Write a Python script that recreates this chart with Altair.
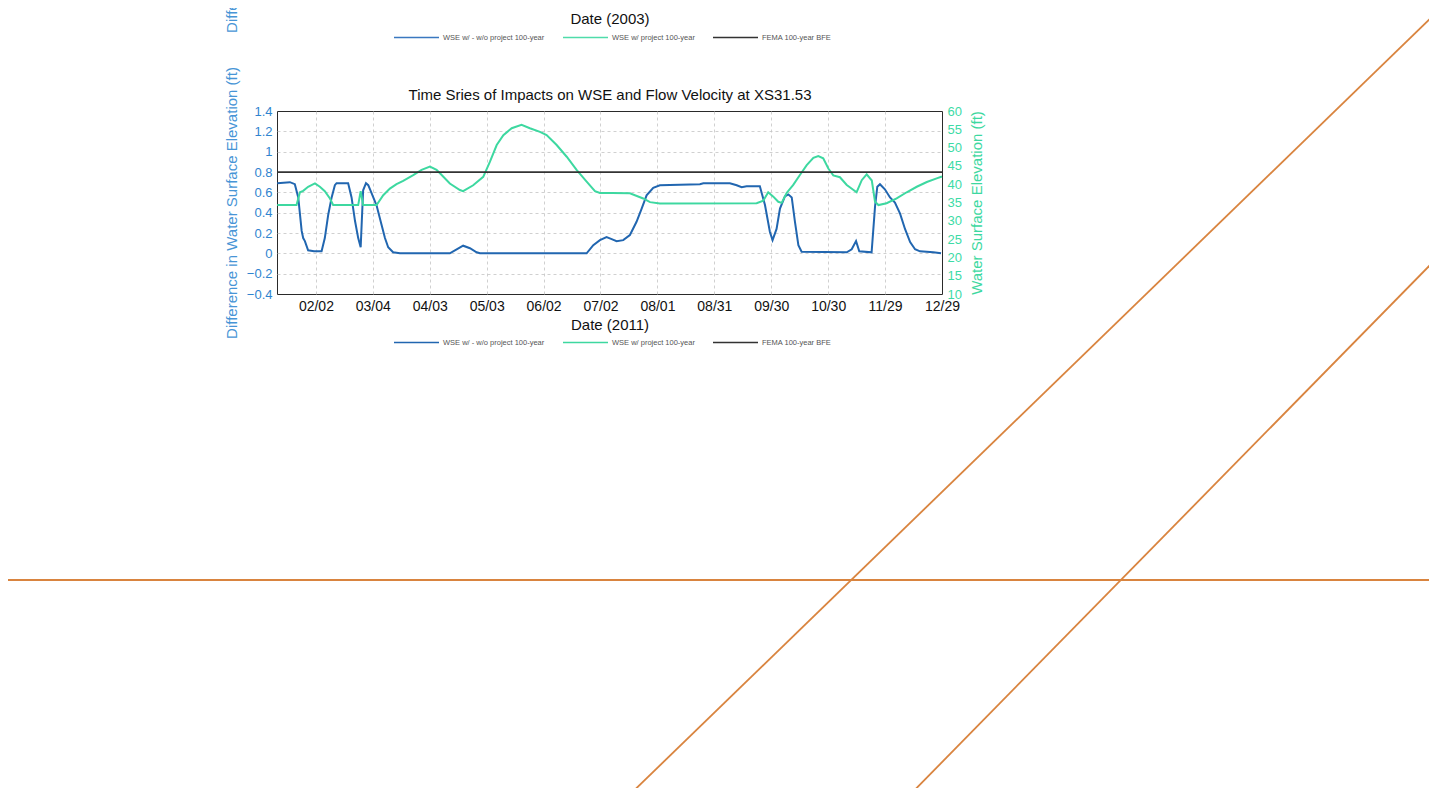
import json
import altair as alt
import pandas as pd

# ---------------- data ----------------
# x ticks: day of year (2011 / 2003) and their labels
tick_days = [33, 63, 93, 123, 153, 183, 213, 243, 273, 303, 333, 363]
tick_labels = ["02/02", "03/04", "04/03", "05/03", "06/02", "07/02",
               "08/01", "08/31", "09/30", "10/30", "11/29", "12/29"]
left_ticks = [-0.4, -0.2, 0, 0.2, 0.4, 0.6, 0.8, 1, 1.2, 1.4]
right_ticks = [10, 15, 20, 25, 30, 35, 40, 45, 50, 55, 60]

# WSE w/ - w/o project 100-year (difference, ft) -> left axis
diff_day = [12.6, 19.3, 21.9, 23.7, 25.5, 26.3, 27.2, 28.9, 32.0, 36.0, 37.7, 39.5,
            41.3, 43.0, 43.9, 50.0, 51.8, 53.6, 55.3, 56.6, 57.9, 59.4, 60.6, 62.4,
            65.0, 67.6, 69.4, 71.1, 73.7, 77.3, 103.6, 107.2, 110.6, 114.2, 117.7,
            119.5, 175.7, 179.2, 182.7, 186.2, 188.9, 191.5, 195.0, 198.5, 202.0,
            204.7, 207.3, 210.8, 214.3, 235.4, 237.2, 251.2, 254.8, 257.4, 260.0,
            267.0, 269.7, 272.3, 273.7, 275.8, 277.6, 280.2, 282.0, 283.8, 285.5,
            287.3, 289.0, 312.8, 315.4, 317.7, 319.4, 325.9, 327.7, 328.9, 330.3,
            332.9, 335.6, 338.2, 340.9, 343.5, 346.2, 348.8, 351.4, 358.4, 362.5]
diff_ft = [0.69, 0.70, 0.68, 0.55, 0.22, 0.15, 0.12, 0.03, 0.02, 0.02, 0.15, 0.38,
           0.55, 0.67, 0.69, 0.69, 0.55, 0.32, 0.15, 0.06, 0.62, 0.69, 0.67, 0.59,
           0.47, 0.28, 0.15, 0.06, 0.01, 0.0, 0.0, 0.04, 0.075, 0.05, 0.01,
           0.0, 0.0, 0.08, 0.13, 0.16, 0.14, 0.12, 0.13, 0.18, 0.31,
           0.44, 0.57, 0.645, 0.67, 0.68, 0.69, 0.69, 0.67, 0.65, 0.66,
           0.66, 0.475, 0.21, 0.13, 0.24, 0.44, 0.56, 0.58, 0.55, 0.31,
           0.08, 0.015, 0.01, 0.04, 0.12, 0.02, 0.01, 0.46, 0.655, 0.68,
           0.63, 0.55, 0.50, 0.39, 0.24, 0.11, 0.04, 0.02, 0.01, 0.0]

# WSE w/ project 100-year (ft) -> right axis
wse_day = [12.6, 22.8, 24.6, 26.3, 28.9, 32.5, 35.1, 37.7, 40.4, 42.1, 55.3, 56.6,
           57.9, 65.0, 68.5, 72.0, 75.5, 79.0, 84.3, 88.7, 93.1, 96.6, 98.4, 103.6,
           108.9, 110.6, 115.9, 121.2, 124.7, 128.3, 131.8, 136.2, 141.4, 145.8,
           151.1, 154.6, 159.9, 165.2, 170.4, 175.7, 180.1, 182.7, 188.9, 198.5,
           205.5, 209.1, 214.3, 265.3, 268.8, 271.4, 274.1, 276.7, 278.5, 281.1,
           284.6, 288.1, 291.7, 295.2, 297.8, 300.4, 303.1, 305.7, 309.2, 312.8,
           318.0, 320.7, 323.3, 326.0, 327.7, 329.5, 333.8, 339.1, 344.4, 349.7,
           355.0, 360.2, 363.0]
wse_ft = [34.3, 34.3, 37.8, 38.2, 39.3, 40.2, 39.3, 38.1, 36.1, 34.3, 34.3, 38.1,
          34.3, 34.3, 37.0, 38.8, 40.0, 40.9, 42.5, 43.9, 44.8, 43.9, 43.0, 40.2,
          38.4, 38.1, 39.7, 42.0, 46.1, 50.7, 53.4, 55.3, 56.2, 55.3,
          54.3, 53.4, 50.7, 47.5, 43.9, 40.7, 38.1, 37.6, 37.6, 37.5,
          36.1, 35.1, 34.7, 34.8, 35.5, 37.8, 36.6, 35.2, 34.9, 37.6,
          39.8, 42.5, 45.2, 47.2, 47.7, 47.1, 44.3, 42.4, 41.9, 39.8,
          37.8, 41.1, 42.7, 41.0, 35.2, 34.3, 34.8, 36.1, 37.8, 39.3,
          40.6, 41.6, 42.1]

# FEMA 100-year BFE (ft, right axis)
bfe_ft = [43.3]

series_names = ["WSE w/ - w/o project 100-year", "WSE w/ project 100-year",
                "FEMA 100-year BFE"]

# orange pen strokes on the scanned page, expressed in chart units (day, ft on left axis)
annot_id = ["h", "h", "d1", "d1", "d2", "d2"]
annot_day = [-144.0, 636.0, 179.2, 635.9, 327.9, 636.0]
annot_ft = [-3.213, -3.213, -5.672, 2.590, -5.672, 0.184]

# ---------------- styling ----------------
X_DOMAIN = [12.5, 363]
LEFT_DOMAIN = [-0.4, 1.4]
RIGHT_DOMAIN = [10, 60]
BLUE = "#2166b0"
GREEN = "#3dd8a0"
BLACK = "#333333"
ORANGE = "#d9843f"
LEFT_LABEL = "#2f84cf"
LEFT_TITLE = "#4795d6"
RIGHT_LABEL = "#3ddba6"
GRID = "#c4c4c4"
series_colors_2011 = [BLUE, GREEN, BLACK]
series_colors_2003 = ["#3a78c0", "#4fdcaa", BLACK]
FONT = "Liberation Sans"
TITLE_TEXT = "Time Sries of Impacts on WSE and Flow Velocity at XS31.53"

label_expr = "{}[indexof({}, datum.value)]".format(json.dumps(tick_labels), json.dumps(tick_days))

diff_df = pd.DataFrame({"day": diff_day, "ft": diff_ft})
wse_df = pd.DataFrame({"day": wse_day, "ft": wse_ft})
bfe_df = pd.DataFrame({"ft": bfe_ft})
annot_df = pd.DataFrame({"id": annot_id, "day": annot_day, "ft": annot_ft})
legend_df = pd.DataFrame({"series": series_names,
                          "day": [wse_day[0]] * 3, "ft": [wse_ft[0]] * 3})


def xscale():
    return alt.Scale(domain=X_DOMAIN, nice=False, zero=False)


def x_axis(title, offset=0):
    return alt.Axis(orient="bottom", values=tick_days, labelExpr=label_expr,
                    labelFontSize=14, labelColor="#111111", labelPadding=5,
                    labelFlush=False, labelOverlap=False, ticks=False, domain=False,
                    grid=False, title=title, titleFontSize=15, titleFontWeight="normal",
                    titleColor="#111111", titlePadding=4, offset=offset)


def left_axis():
    return alt.Axis(orient="left", values=left_ticks, format="~g",
                    labelColor=LEFT_LABEL, labelFontSize=13, labelPadding=5,
                    labelFlush=False, labelOverlap=False, ticks=False, domain=False,
                    grid=False,
                    title="Difference in Water Surface Elevation (ft)",
                    titleColor=LEFT_TITLE, titleFontSize=15, titleFontWeight="normal",
                    titlePadding=7)


def grid_axis(orient, values):
    return alt.Axis(orient=orient, values=values, labels=False, ticks=False,
                    domain=False, grid=True, gridColor=GRID, gridDash=[3, 3],
                    gridWidth=0.8, title=None)


def legend(x, y):
    return alt.Legend(orient="none", legendX=x, legendY=y, direction="horizontal",
                      title=None, symbolType="stroke", symbolSize=2025,
                      symbolStrokeWidth=1.5, labelFontSize=7.5, labelColor="#555555",
                      labelOffset=3, columnPadding=15, padding=0, labelFont=FONT)


# blue: difference line, main x axis and left axis
blue = alt.Chart(diff_df).mark_line(color=BLUE, strokeWidth=2).encode(
    x=alt.X("day:Q", scale=xscale(), axis=x_axis("Date (2011)")),
    y=alt.Y("ft:Q", scale=alt.Scale(domain=LEFT_DOMAIN, nice=False, zero=False),
            axis=left_axis()),
)

# green: WSE line, right axis; carries the vertical grid lines
green = alt.Chart(wse_df).mark_line(color=GREEN, strokeWidth=2).encode(
    x=alt.X("day:Q", scale=xscale(), axis=grid_axis("bottom", tick_days[:-1])),
    y=alt.Y("ft:Q", scale=alt.Scale(domain=RIGHT_DOMAIN, nice=False, zero=False),
            axis=alt.Axis(orient="right", values=right_ticks, labelColor=RIGHT_LABEL,
                          labelFontSize=13, labelPadding=5, labelFlush=False,
                          labelOverlap=False, ticks=False, domain=False, grid=False,
                          title="Water Surface Elevation (ft)", titleColor=GREEN,
                          titleFontSize=15, titleFontWeight="normal", titleAngle=270,
                          titlePadding=23)),
)

bfe = alt.Chart(bfe_df).mark_rule(color=BLACK, strokeWidth=1.8).encode(
    y=alt.Y("ft:Q", scale=alt.Scale(domain=RIGHT_DOMAIN, nice=False, zero=False), axis=None),
)

# orange pen strokes; carries the chart title (top axis) and horizontal grid lines
annot = alt.Chart(annot_df).mark_line(color=ORANGE, strokeWidth=1.8, clip=False).encode(
    x=alt.X("day:Q", scale=xscale(),
            axis=alt.Axis(orient="top", labels=False, ticks=False, domain=False, grid=False,
                          title=TITLE_TEXT, titleFontSize=15, titleFontWeight="normal",
                          titleColor="#111111", titlePadding=9)),
    y=alt.Y("ft:Q", scale=alt.Scale(domain=LEFT_DOMAIN, nice=False, zero=False),
            axis=grid_axis("left", left_ticks[1:-1])),
    detail="id:N",
    order=alt.Order("day:Q"),
)

leg2011 = alt.Chart(legend_df).mark_line(strokeWidth=1.5).encode(
    x=alt.X("day:Q", scale=xscale(), axis=None),
    y=alt.Y("ft:Q", scale=alt.Scale(domain=RIGHT_DOMAIN, nice=False, zero=False), axis=None),
    color=alt.Color("series:N", scale=alt.Scale(domain=series_names, range=series_colors_2011),
                    legend=legend(116, 208)),
)

# remnants of the 2003 chart above (cut by the page edge)
leg2003 = alt.Chart(legend_df).mark_line(strokeWidth=1.5).encode(
    x=alt.X("day:Q", scale=xscale(), axis=x_axis("Date (2003)", offset=-306)),
    y=alt.Y("ft:Q", scale=alt.Scale(domain=LEFT_DOMAIN, nice=False, zero=False,
                                    range=[-123, -306]),
            axis=left_axis()),
    color=alt.Color("series:N", scale=alt.Scale(domain=series_names, range=series_colors_2003),
                    legend=legend(116, -97)),
)

chart = alt.layer(blue, green, bfe, annot, leg2011, leg2003).resolve_scale(
    y="independent", color="independent"
).resolve_axis(
    x="independent", y="independent"
).properties(
    width=665, height=183,
    autosize=alt.AutoSizeParams(type="none"),
    padding={"left": 269, "top": 103, "right": 487, "bottom": 494},
).configure(
    font=FONT,
).configure_view(
    stroke="#2a2a2a", strokeWidth=1,
)

chart.save("out.html", embed_options={"renderer": "svg", "actions": False})
